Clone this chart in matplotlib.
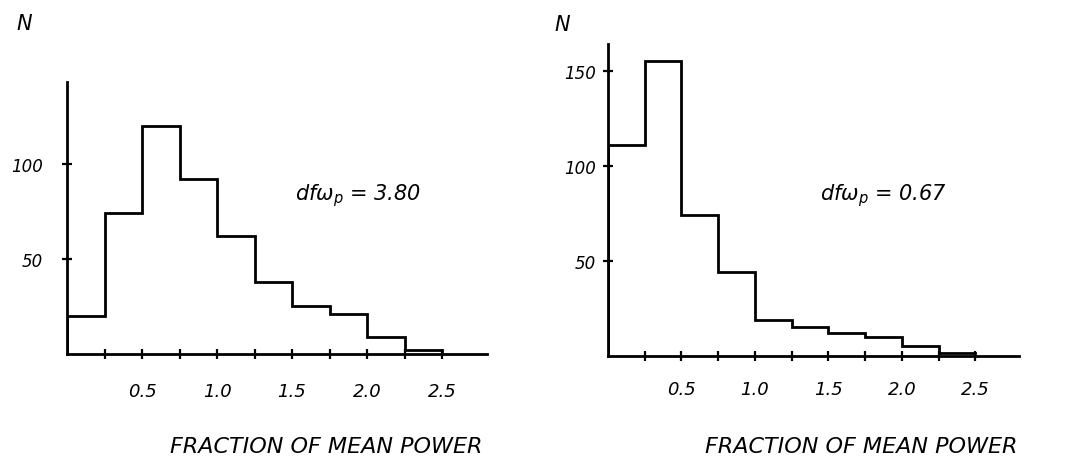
import numpy as np
import matplotlib
matplotlib.use("Agg")
import matplotlib.pyplot as plt

# bin edges (fraction of mean power) and counts per bin
edges = np.arange(0, 2.51, 0.25)
counts_a = [20, 74, 120, 92, 62, 38, 25, 21, 9, 2]
counts_b = [111, 155, 74, 44, 19, 15, 12, 10, 5, 1.5]
labels_a = "3.80"
labels_b = "0.67"

xticks = np.arange(0.25, 2.51, 0.25)
xtick_labels = ["" if abs(t * 2 - round(t * 2)) > 1e-9 else f"{t:.1f}" for t in xticks]
yticks_a = [50, 100]
yticks_b = [50, 100, 150]

plt.rcParams["font.family"] = "DejaVu Sans"
plt.rcParams["font.style"] = "italic"

fig = plt.figure(figsize=(10.76, 4.6), dpi=100)
ax1 = fig.add_axes([67 / 1076, 1 - 355 / 460, 420 / 1076, 272 / 460])
ax2 = fig.add_axes([608 / 1076, 1 - 357 / 460, 411 / 1076, 312 / 460])

panels = [
    (ax1, counts_a, yticks_a, labels_a, 2.8, 143, 14, 17, (1.52, 84), -0.30),
    (ax2, counts_b, yticks_b, labels_b, 2.796, 164, 5, 14, (1.44, 85), -0.256),
]

for ax, counts, yt, dfw, xmax, ytop, ypad, xpad, txy, lab_y in panels:
    ax.stairs(counts, edges, baseline=0, color="black", lw=2.0)
    ax.set_xlim(0, xmax)
    ax.set_ylim(0, ytop)
    for s in ["top", "right"]:
        ax.spines[s].set_visible(False)
    for s in ["left", "bottom"]:
        ax.spines[s].set_linewidth(2.0)
    ax.set_xticks(xticks)
    ax.set_xticklabels(xtick_labels, fontsize=13)
    ax.set_yticks(yt)
    ax.set_yticklabels([str(v) for v in yt], fontsize=12)
    ax.tick_params(axis="x", direction="inout", length=7, width=1.6, pad=xpad)
    ax.tick_params(axis="y", direction="inout", length=7, width=1.6, pad=ypad)
    ax.text(txy[0], txy[1], r"$df\omega_p$" + " = " + dfw, fontsize=15,
            ha="left", va="center")
    ax.set_xlabel("FRACTION OF MEAN POWER", fontsize=16)
    ax.xaxis.set_label_coords(0.617, lab_y)
    ax.xaxis.label.set_va("top")

fig.text(24 / 1076, 1 - 24 / 460, "N", fontsize=15, ha="center", va="center")
fig.text(562 / 1076, 1 - 25 / 460, "N", fontsize=15, ha="center", va="center")

fig.savefig("out.png", dpi=100)
